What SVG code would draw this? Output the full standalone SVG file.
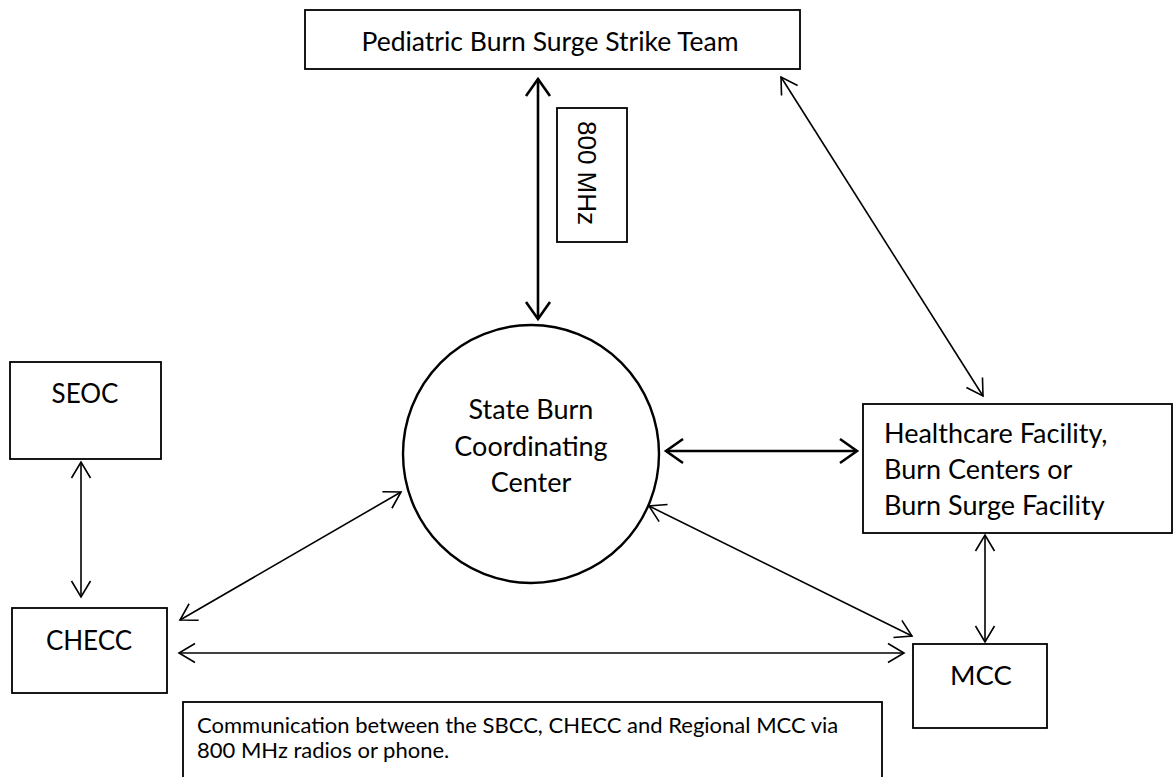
<svg xmlns="http://www.w3.org/2000/svg" width="1175" height="777" viewBox="0 0 1175 777">
<style>
.box{fill:#fff;stroke:#000;stroke-width:1.8}
.t{font-family:Lato,"Open Sans",sans-serif;fill:#000}
.c{stroke:#000;stroke-width:1.6;fill:none;marker-start:url(#ah);marker-end:url(#ah)}
.ck{stroke:#000;stroke-width:2.6;fill:none;marker-start:url(#ahk);marker-end:url(#ahk)}
</style>
<defs>
<marker id="ah" markerUnits="userSpaceOnUse" viewBox="-20 -14 24 28" refX="0" refY="0" markerWidth="24" markerHeight="28" orient="auto-start-reverse" overflow="visible">
<path d="M-16,-9.5 L0,0 L-16,9.5" fill="none" stroke="#000" stroke-width="1.6"/>
</marker>
<marker id="ahk" markerUnits="userSpaceOnUse" viewBox="-22 -16 26 32" refX="0" refY="0" markerWidth="26" markerHeight="32" orient="auto-start-reverse" overflow="visible">
<path d="M-17,-12 L0,0 L-17,12" fill="none" stroke="#000" stroke-width="2.6"/>
</marker>
</defs>
<rect width="1175" height="777" fill="#fff"/>
<g id="connectors">
<line class="ck" x1="538" y1="79" x2="538" y2="319"/>
<line class="c" x1="781" y1="77" x2="983" y2="396"/>
<line class="ck" x1="666" y1="451" x2="857" y2="451"/>
<line class="c" x1="81" y1="462" x2="81" y2="597"/>
<line class="c" x1="180" y1="620" x2="401" y2="492"/>
<line class="c" x1="179" y1="653" x2="904" y2="653"/>
<line class="c" x1="649" y1="506" x2="912" y2="636"/>
<line class="c" x1="985" y1="535" x2="985" y2="642"/>
</g>
<g id="strike-team">
<rect class="box" x="305" y="10" width="495" height="59"/>
<text class="t" x="550" y="51" font-size="26.5" text-anchor="middle">Pediatric Burn Surge Strike Team</text>
</g>
<g id="label-800">
<rect class="box" x="557" y="108" width="70" height="134"/>
<text transform="translate(578,173) rotate(90)" x="0" y="0" font-family="Liberation Sans,Arial,sans-serif" font-size="26" text-anchor="middle">800 MHz</text>
</g>
<g id="sbcc">
<ellipse cx="531" cy="454" rx="128" ry="129" fill="#fff" stroke="#000" stroke-width="2.4"/>
<text class="t" x="531" y="419" font-size="27" text-anchor="middle">State Burn</text>
<text class="t" x="531" y="456" font-size="27" text-anchor="middle">Coordinating</text>
<text class="t" x="531" y="492" font-size="27" text-anchor="middle">Center</text>
</g>
<g id="seoc">
<rect class="box" x="10" y="362" width="151" height="97"/>
<text class="t" x="85" y="403" font-size="26" text-anchor="middle">SEOC</text>
</g>
<g id="checc">
<rect class="box" x="12" y="608" width="155" height="85"/>
<text class="t" x="89" y="650" font-size="26" text-anchor="middle">CHECC</text>
</g>
<g id="healthcare">
<rect class="box" x="863" y="404" width="309" height="129"/>
<text class="t" x="884" y="443" font-size="27">Healthcare Facility,</text>
<text class="t" x="884" y="479" font-size="27">Burn Centers or</text>
<text class="t" x="884" y="515" font-size="27">Burn Surge Facility</text>
</g>
<g id="mcc">
<rect class="box" x="913" y="644" width="134" height="84"/>
<text class="t" x="981" y="685" font-size="27.5" text-anchor="middle">MCC</text>
</g>
<g id="note">
<rect class="box" x="183" y="702" width="699" height="100"/>
<text class="t" x="197" y="733" font-size="22">Communication between the SBCC, CHECC and Regional MCC via</text>
<text class="t" x="197" y="758" font-size="22">800 MHz radios or phone.</text>
</g>
</svg>
